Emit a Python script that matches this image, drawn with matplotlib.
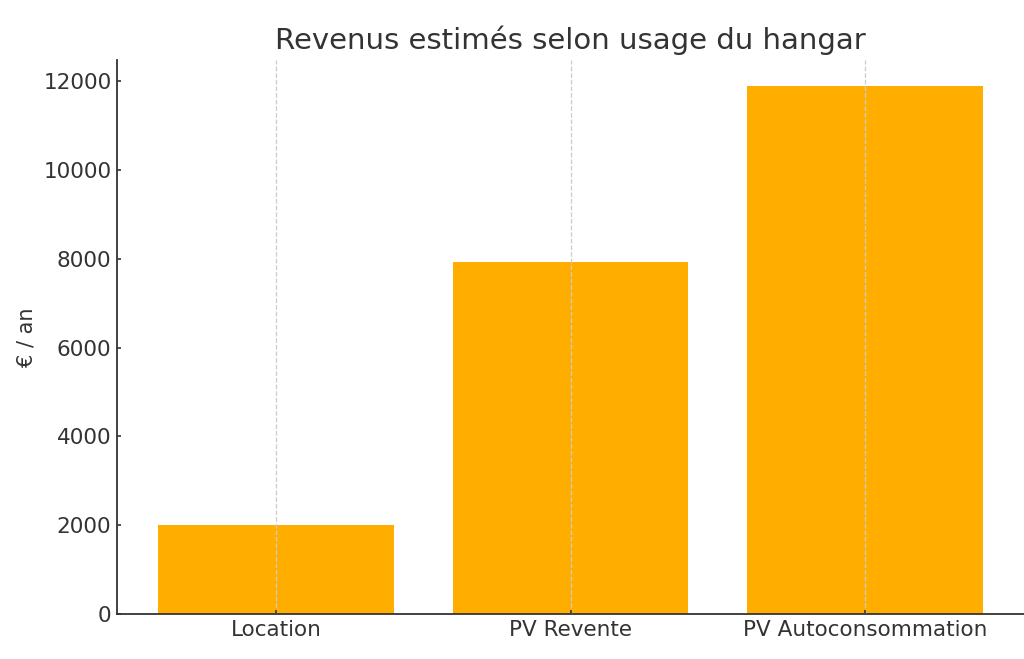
import matplotlib
matplotlib.use("Agg")
import matplotlib.pyplot as plt

categories = ["Location", "PV Revente", "PV Autoconsommation"]
revenus = [2000, 7920, 11880]

plt.rcParams['font.family'] = ['DejaVu Sans']
text_color = '#333333'

fig = plt.figure(figsize=(10.24, 6.59), dpi=100)
ax = fig.add_axes([0.1143, 0.0683, 0.8857, 0.8407])

ax.bar(categories, revenus, width=0.8, color='#FFAE00', zorder=2)
ax.grid(axis='x', linestyle='--', color='#cccccc', linewidth=0.9, zorder=3)
ax.set_axisbelow(False)

ax.set_title("Revenus estimés selon usage du hangar", fontsize=21, color=text_color, pad=8)
ax.set_ylabel("€ / an", fontsize=15, color=text_color, labelpad=5)
ax.tick_params(axis='both', labelsize=15.5, colors=text_color, length=3, width=1.2,
               direction='in', pad=4)
ax.set_yticks([0, 2000, 4000, 6000, 8000, 10000, 12000])

for s in ['top', 'right']:
    ax.spines[s].set_visible(False)
for s in ['left', 'bottom']:
    ax.spines[s].set_color(text_color)
    ax.spines[s].set_linewidth(1.3)

fig.savefig("out.png", dpi=100)
